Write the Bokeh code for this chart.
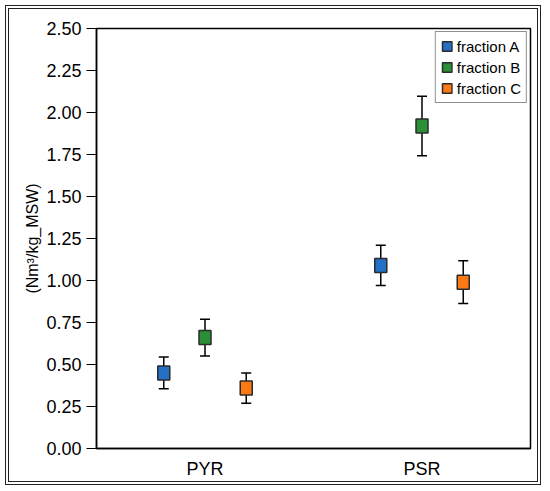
from bokeh.plotting import figure
from bokeh.models import ColumnDataSource, Whisker, TeeHead, Range1d, FactorRange, SingleIntervalTicker, NumeralTickFormatter, Legend, LegendItem
from bokeh.transform import dodge
from bokeh.embed import file_html
from bokeh.resources import INLINE

categories = ["PYR", "PSR"]
series_names = ["fraction A", "fraction B", "fraction C"]
frac_a = [0.45, 1.09]
err_a = [0.095, 0.12]
frac_b = [0.66, 1.92]
err_b = [0.11, 0.177]
frac_c = [0.36, 0.99]
err_c = [0.09, 0.127]

values = [frac_a, frac_b, frac_c]
errors = [err_a, err_b, err_c]
colors = ["#2470c4", "#2a8f35", "#fb7a14"]
offsets = [-0.19, 0.0, 0.19]

FONT = "Liberation Sans"

p = figure(x_range=FactorRange(*categories), y_range=Range1d(0, 2.5),
           width=530, height=474, output_backend="svg", toolbar_location=None,
           min_border_left=87, min_border_right=9, min_border_top=19, min_border_bottom=35)
p.styles = {"border": "1px solid #222", "outline": "1px solid #222", "outline-offset": "2px",
            "margin-left": "8px", "margin-top": "8px"}

p.xgrid.visible = False
p.ygrid.visible = False
p.outline_line_color = "black"
p.outline_line_width = 1.5
p.outline_line_alpha = 1.0

yax = p.yaxis[0]
yax.ticker = SingleIntervalTicker(interval=0.25)
yax.formatter = NumeralTickFormatter(format="0.00")
yax.minor_tick_line_color = None
yax.major_tick_in = 0
yax.major_tick_out = 10
yax.major_tick_line_width = 1.2
yax.major_label_standoff = 5
yax.major_label_text_font = FONT
yax.major_label_text_font_size = "18px"
yax.major_label_text_color = "black"
yax.axis_label = "(Nm³/kg_MSW)"
yax.axis_label_text_font = FONT
yax.axis_label_text_font_size = "16px"
yax.axis_label_text_font_style = "normal"
yax.axis_label_text_color = "black"
yax.axis_label_standoff = 2
yax.axis_line_width = 1.5

xax = p.xaxis[0]
xax.major_tick_line_color = None
xax.minor_tick_line_color = None
xax.major_tick_out = 0
xax.major_tick_in = 0
xax.major_label_standoff = 10
xax.major_label_text_font = FONT
xax.major_label_text_font_size = "18px"
xax.major_label_text_color = "black"
xax.axis_line_width = 1.5

items = []
for name, vals, errs, col, off in zip(series_names, values, errors, colors, offsets):
    src = ColumnDataSource(dict(
        cat=categories,
        val=vals,
        lo=[v - e for v, e in zip(vals, errs)],
        hi=[v + e for v, e in zip(vals, errs)],
    ))
    xs = dodge("cat", off, range=p.x_range)
    w = Whisker(source=src, base=xs, upper="hi", lower="lo", dimension="height",
                line_color="black", line_width=1.5,
                upper_head=TeeHead(size=10, line_color="black", line_width=1.5),
                lower_head=TeeHead(size=10, line_color="black", line_width=1.5))
    p.add_layout(w)
    r = p.rect(x=xs, y="val", width=12, height=14, width_units="screen", height_units="screen",
               source=src, fill_color=col, line_color="#2b2b2b", line_width=1.5)
    items.append(LegendItem(label=name, renderers=[r]))

legend = Legend(items=items, location="top_right",
                label_text_font=FONT, label_text_font_size="15px", label_text_color="black",
                glyph_width=12, glyph_height=12, label_height=18, spacing=3,
                label_standoff=4, padding=5, margin=3,
                border_line_color="#222", border_line_width=1.2,
                background_fill_color="white", background_fill_alpha=1.0)
p.add_layout(legend)

open("out.html", "w").write(file_html(p, INLINE))
